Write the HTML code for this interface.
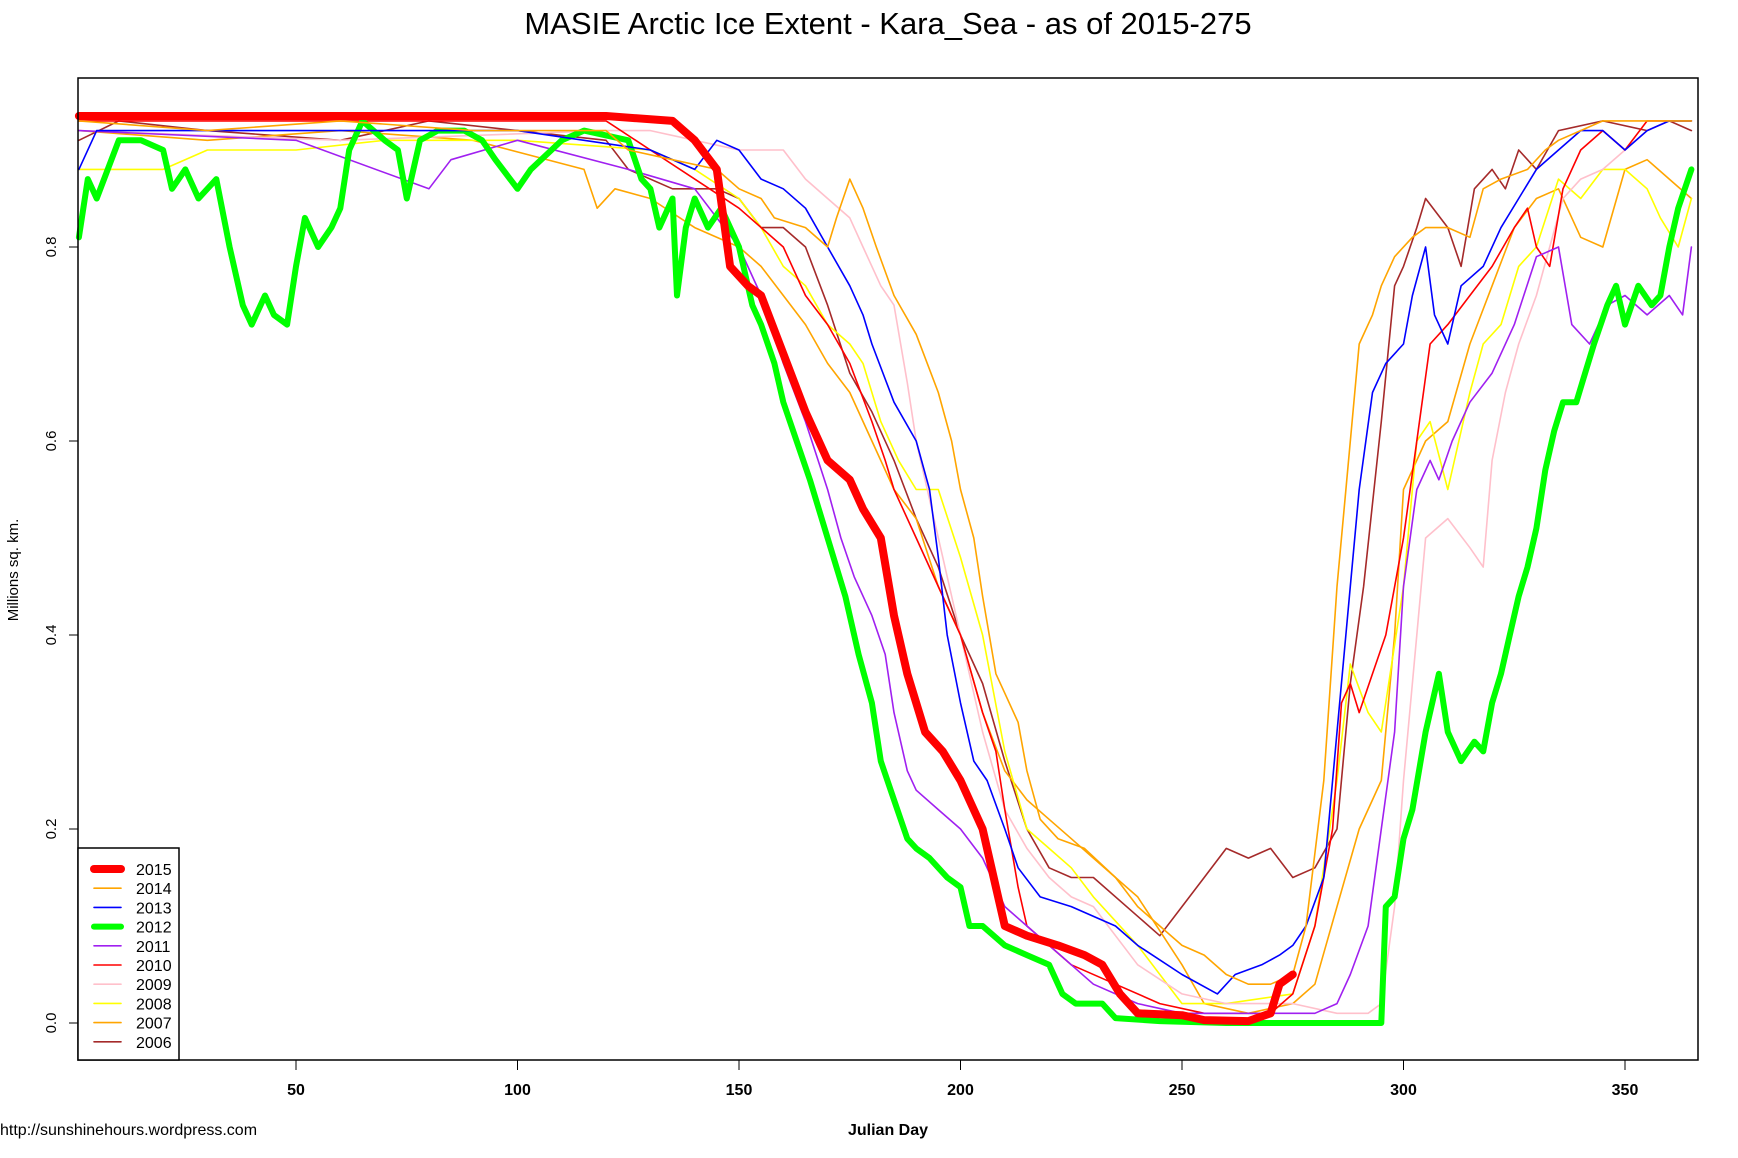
<!DOCTYPE html>
<html><head><meta charset="utf-8"><style>
html,body{margin:0;padding:0;background:#fff;}
svg{display:block;font-family:"Liberation Sans",sans-serif;}
</style></head><body>
<svg id="chart" width="1738" height="1158" viewBox="0 0 1738 1158">
<rect width="1738" height="1158" fill="#fff"/>
<text x="888" y="34" font-size="31" text-anchor="middle">MASIE Arctic Ice Extent - Kara_Sea - as of 2015-275</text>
<g id="series"></g>
<rect x="78" y="78" width="1620" height="982" fill="none" stroke="#000" stroke-width="1.5"/>
<g id="axes"></g>
<text transform="translate(18,570) rotate(-90)" font-size="15" text-anchor="middle">Millions sq. km.</text>
<text x="888" y="1135" font-size="16" font-weight="bold" text-anchor="middle">Julian Day</text>
<text x="0" y="1135" font-size="16">http://sunshinehours.wordpress.com</text>
<g id="legend"></g>
</svg>
<script>
const xTicks=[50,100,150,200,250,300,350];
const yTicks=[0,0.2,0.4,0.6,0.8];
const yTickLabels=["0.0","0.2","0.4","0.6","0.8"];
const years=["2015","2014","2013","2012","2011","2010","2009","2008","2007","2006"];
const d2006=[1,10,30,60,80,100,120,125,135,145,150,155,160,165,170,175,180,185,190,195,200,205,210,215,220,225,230,240,245,250,255,260,265,270,275,280,285,288,291,295,298,300,303,305,310,313,316,320,323,326,330,335,345,355,360,365];
const v2006=[0.91,0.93,0.92,0.91,0.93,0.92,0.91,0.88,0.86,0.86,0.85,0.82,0.82,0.80,0.74,0.67,0.63,0.58,0.52,0.47,0.40,0.35,0.27,0.20,0.16,0.15,0.15,0.11,0.09,0.12,0.15,0.18,0.17,0.18,0.15,0.16,0.20,0.35,0.45,0.62,0.76,0.78,0.82,0.85,0.82,0.78,0.86,0.88,0.86,0.90,0.88,0.92,0.93,0.92,0.93,0.92];
const d2007=[1,30,60,90,115,118,122,130,140,150,155,160,165,170,175,180,185,190,195,200,205,210,215,220,225,230,240,250,255,265,275,280,285,290,295,298,300,305,310,315,320,325,330,335,340,345,350,355,360,365];
const v2007=[0.92,0.91,0.92,0.91,0.88,0.84,0.86,0.85,0.82,0.80,0.78,0.75,0.72,0.68,0.65,0.60,0.55,0.52,0.45,0.40,0.32,0.26,0.23,0.21,0.19,0.17,0.13,0.06,0.02,0.01,0.02,0.04,0.12,0.20,0.25,0.40,0.55,0.60,0.62,0.70,0.76,0.82,0.85,0.86,0.81,0.80,0.88,0.89,0.87,0.85];
const d2008=[1,20,30,50,70,100,130,140,150,155,160,165,170,175,178,182,186,190,195,200,205,210,215,220,225,230,240,250,260,275,280,285,288,292,295,300,303,306,310,315,318,322,326,330,335,340,345,350,355,358,362,365];
const v2008=[0.88,0.88,0.90,0.90,0.91,0.91,0.90,0.88,0.85,0.82,0.78,0.76,0.72,0.70,0.68,0.62,0.58,0.55,0.55,0.48,0.40,0.28,0.20,0.18,0.16,0.13,0.08,0.02,0.02,0.03,0.10,0.25,0.37,0.32,0.30,0.45,0.60,0.62,0.55,0.65,0.70,0.72,0.78,0.80,0.87,0.85,0.88,0.88,0.86,0.83,0.80,0.85];
const d2009=[1,60,120,130,140,150,160,165,170,175,178,182,185,188,190,193,196,200,205,210,215,220,225,230,240,250,260,275,285,292,295,298,300,303,305,310,315,318,320,323,326,330,333,336,340,345,350,355,360,365];
const v2009=[0.92,0.91,0.92,0.92,0.91,0.90,0.90,0.87,0.85,0.83,0.80,0.76,0.74,0.66,0.60,0.54,0.48,0.40,0.30,0.22,0.18,0.15,0.13,0.12,0.06,0.03,0.02,0.02,0.01,0.01,0.02,0.12,0.25,0.40,0.50,0.52,0.49,0.47,0.58,0.65,0.70,0.75,0.80,0.85,0.87,0.88,0.90,0.92,0.93,0.93];
const d2010=[1,120,130,140,150,160,165,170,175,180,183,185,190,195,200,205,208,210,213,215,220,225,235,245,255,270,275,280,284,286,288,290,293,296,300,303,306,310,315,320,325,328,330,333,336,340,345,350,355,360,365];
const v2010=[0.93,0.93,0.90,0.87,0.84,0.80,0.75,0.72,0.68,0.62,0.58,0.55,0.50,0.45,0.40,0.32,0.28,0.22,0.14,0.10,0.08,0.06,0.04,0.02,0.01,0.01,0.03,0.10,0.20,0.33,0.35,0.32,0.36,0.40,0.50,0.60,0.70,0.72,0.75,0.78,0.82,0.84,0.80,0.78,0.86,0.90,0.92,0.90,0.93,0.93,0.93];
const d2011=[1,50,80,85,100,125,140,150,155,160,165,170,173,176,180,183,185,188,190,195,200,205,210,215,220,225,230,240,250,280,285,288,292,295,298,300,303,306,308,311,315,320,325,330,335,338,342,346,350,355,360,363,365];
const v2011=[0.92,0.91,0.86,0.89,0.91,0.88,0.86,0.80,0.75,0.68,0.62,0.55,0.50,0.46,0.42,0.38,0.32,0.26,0.24,0.22,0.20,0.17,0.12,0.10,0.08,0.06,0.04,0.02,0.01,0.01,0.02,0.05,0.10,0.20,0.30,0.45,0.55,0.58,0.56,0.60,0.64,0.67,0.72,0.79,0.80,0.72,0.70,0.74,0.75,0.73,0.75,0.73,0.80];
const d2012=[1,3,5,10,15,20,22,25,28,32,35,38,40,43,45,48,50,52,55,58,60,62,65,70,73,75,78,82,88,92,95,100,103,110,115,125,128,130,132,135,136,138,140,143,146,150,153,155,158,160,163,166,170,174,177,180,182,185,188,190,193,197,200,202,205,210,215,220,223,226,232,235,245,260,280,295,296,298,300,302,305,308,310,313,316,318,320,322,324,326,328,330,332,334,336,339,341,343,346,348,350,353,356,358,360,362,365];
const v2012=[0.81,0.87,0.85,0.91,0.91,0.90,0.86,0.88,0.85,0.87,0.80,0.74,0.72,0.75,0.73,0.72,0.78,0.83,0.80,0.82,0.84,0.90,0.93,0.91,0.90,0.85,0.91,0.92,0.92,0.91,0.89,0.86,0.88,0.91,0.92,0.91,0.87,0.86,0.82,0.85,0.75,0.82,0.85,0.82,0.84,0.80,0.74,0.72,0.68,0.64,0.60,0.56,0.50,0.44,0.38,0.33,0.27,0.23,0.19,0.18,0.17,0.15,0.14,0.10,0.10,0.08,0.07,0.06,0.03,0.02,0.02,0.005,0.002,0,0,0,0.12,0.13,0.19,0.22,0.30,0.36,0.30,0.27,0.29,0.28,0.33,0.36,0.40,0.44,0.47,0.51,0.57,0.61,0.64,0.64,0.67,0.70,0.74,0.76,0.72,0.76,0.74,0.75,0.80,0.84,0.88];
const d2013=[1,5,60,100,130,140,145,150,155,160,165,170,175,178,180,185,190,193,195,197,200,203,206,210,213,218,225,235,240,250,258,262,268,272,275,278,282,285,288,290,293,296,300,302,305,307,310,313,318,322,326,330,335,340,345,350,355,360,365];
const v2013=[0.88,0.92,0.92,0.92,0.90,0.88,0.91,0.90,0.87,0.86,0.84,0.80,0.76,0.73,0.70,0.64,0.60,0.55,0.48,0.40,0.33,0.27,0.25,0.20,0.16,0.13,0.12,0.10,0.08,0.05,0.03,0.05,0.06,0.07,0.08,0.10,0.15,0.30,0.45,0.55,0.65,0.68,0.70,0.75,0.80,0.73,0.70,0.76,0.78,0.82,0.85,0.88,0.90,0.92,0.92,0.90,0.92,0.93,0.93];
const d2014=[1,30,60,90,120,125,135,145,150,155,158,165,170,172,175,178,181,185,190,195,198,200,203,205,208,210,213,215,218,222,228,235,240,245,250,255,260,265,270,275,278,282,285,287,290,293,295,298,302,305,310,315,318,322,328,332,335,340,345,350,360,365];
const v2014=[0.93,0.92,0.93,0.92,0.92,0.90,0.89,0.88,0.86,0.85,0.83,0.82,0.80,0.83,0.87,0.84,0.80,0.75,0.71,0.65,0.60,0.55,0.50,0.44,0.36,0.34,0.31,0.26,0.21,0.19,0.18,0.15,0.12,0.10,0.08,0.07,0.05,0.04,0.04,0.05,0.10,0.25,0.45,0.55,0.70,0.73,0.76,0.79,0.81,0.82,0.82,0.81,0.86,0.87,0.88,0.90,0.91,0.92,0.93,0.93,0.93,0.93];
const d2015=[1,60,120,135,140,145,148,152,155,160,165,170,175,178,182,185,188,192,196,200,205,208,210,215,222,228,232,236,240,250,255,265,270,272,275];
const v2015=[0.935,0.935,0.935,0.93,0.91,0.88,0.78,0.76,0.75,0.69,0.63,0.58,0.56,0.53,0.50,0.42,0.36,0.30,0.28,0.25,0.20,0.14,0.10,0.09,0.08,0.07,0.06,0.03,0.01,0.008,0.003,0.002,0.01,0.04,0.05];

const NS="http://www.w3.org/2000/svg";
function xs(d){return 296+(d-50)*4.43;}
function ys(v){return 1023-v*970;}
const sg=document.getElementById('series');
function draw(days,vals,color,w,name){
  const p=document.createElementNS(NS,'polyline');
  p.setAttribute('points',days.map((d,i)=>xs(d).toFixed(1)+','+ys(vals[i]).toFixed(1)).join(' '));
  p.setAttribute('fill','none');p.setAttribute('stroke',color);p.setAttribute('stroke-width',w);
  p.setAttribute('stroke-linejoin','round');p.setAttribute('stroke-linecap','round');
  
  
  sg.appendChild(p);
}
draw(d2006,v2006,'#a52a2a',1.6,'line-2006');
draw(d2007,v2007,'#ffa500',1.6,'line-2007');
draw(d2008,v2008,'#ffff00',1.6,'line-2008');
draw(d2009,v2009,'#ffc0cb',1.6,'line-2009');
draw(d2010,v2010,'#ff0000',1.6,'line-2010');
draw(d2011,v2011,'#a020f0',1.6,'line-2011');
draw(d2012,v2012,'#00ff00',6,'line-2012');
draw(d2013,v2013,'#0000ff',1.6,'line-2013');
draw(d2014,v2014,'#ffa500',1.6,'line-2014');
draw(d2015,v2015,'#ff0000',8,'line-2015');

const ax=document.getElementById('axes');
xTicks.forEach(t=>{
  const l=document.createElementNS(NS,'line');
  l.setAttribute('x1',xs(t));l.setAttribute('x2',xs(t));l.setAttribute('y1',1060);l.setAttribute('y2',1070);l.setAttribute('stroke','#000');
  
  
  ax.appendChild(l);
  const tx=document.createElementNS(NS,'text');
  tx.setAttribute('x',xs(t));tx.setAttribute('y',1095);tx.setAttribute('font-size','16');tx.setAttribute('font-weight','bold');tx.setAttribute('text-anchor','middle');
  tx.textContent=t;
  
  
  ax.appendChild(tx);
});
yTicks.forEach((t,i)=>{
  const l=document.createElementNS(NS,'line');
  l.setAttribute('x1',69);l.setAttribute('x2',78);l.setAttribute('y1',ys(t));l.setAttribute('y2',ys(t));l.setAttribute('stroke','#000');
  
  
  ax.appendChild(l);
  const tx=document.createElementNS(NS,'text');
  tx.setAttribute('transform','translate(56,'+ys(t)+') rotate(-90)');tx.setAttribute('font-size','15');tx.setAttribute('text-anchor','middle');
  tx.textContent=yTickLabels[i];
  
  
  ax.appendChild(tx);
});

const lg=document.getElementById('legend');
const lgColors=['#ff0000','#ffa500','#0000ff','#00ff00','#a020f0','#ff0000','#ffc0cb','#ffff00','#ffa500','#a52a2a'];
const lgWidths=[8,1.6,1.6,6,1.6,1.6,1.6,1.6,1.6,1.6];
const bx=document.createElementNS(NS,'rect');
bx.setAttribute('x',78);bx.setAttribute('y',848);bx.setAttribute('width',101);bx.setAttribute('height',212);bx.setAttribute('fill','#fff');bx.setAttribute('stroke','#000');bx.setAttribute('stroke-width','1.5');


lg.appendChild(bx);
years.forEach((y,i)=>{
  const cy=869+i*19.2;
  const l=document.createElementNS(NS,'line');
  l.setAttribute('x1',94);l.setAttribute('x2',121);l.setAttribute('y1',cy);l.setAttribute('y2',cy);
  l.setAttribute('stroke',lgColors[i]);l.setAttribute('stroke-width',lgWidths[i]);l.setAttribute('stroke-linecap','round');
  
  
  lg.appendChild(l);
  const tx=document.createElementNS(NS,'text');
  tx.setAttribute('x',136);tx.setAttribute('y',cy+6);tx.setAttribute('font-size','16');
  tx.textContent=y;
  
  
  lg.appendChild(tx);
});
</script>
</body></html>
